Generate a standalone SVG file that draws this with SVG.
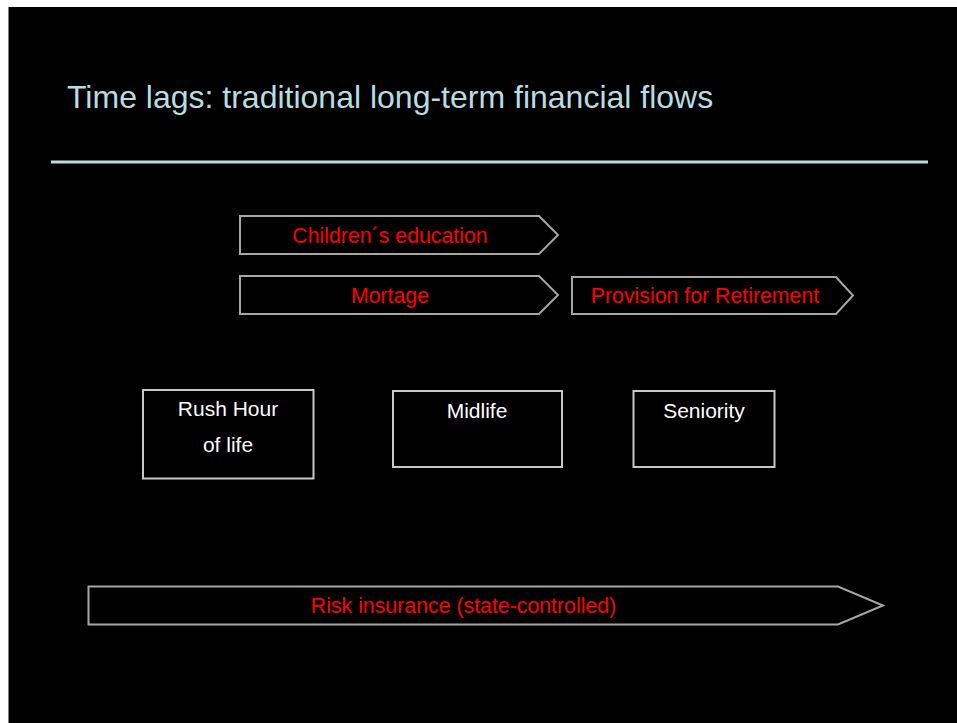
<svg xmlns="http://www.w3.org/2000/svg" width="957" height="723" viewBox="0 0 957 723">
<style>
.flow{fill:#000;stroke:#a6a6a6;stroke-width:2}
.box{fill:#000;stroke:#c8c8c8;stroke-width:2}
.rt{font-family:"Liberation Sans",Arial,sans-serif;font-size:21.3px;fill:#ff0000;text-anchor:middle}
.wt{font-family:"Liberation Sans",Arial,sans-serif;font-size:21px;fill:#ffffff;text-anchor:middle}
</style>
<rect x="0" y="0" width="957" height="723" fill="#ffffff"/>
<rect x="8.5" y="7" width="948.5" height="716" fill="#000000"/>
<text x="67" y="108" font-family="Liberation Sans, Arial, sans-serif" font-size="32" fill="#b8dde0">Time lags: traditional long-term financial flows</text>
<line x1="51" y1="162" x2="928" y2="162" stroke="#b8dde0" stroke-width="3"/>
<g id="connectors"></g>
<g id="children">
<polygon class="flow" points="240,216 539,216 558,235 539,254 240,254"/>
<text class="rt" x="390" y="243">Children´s education</text>
</g>
<g id="mortage">
<polygon class="flow" points="240,276 539,276 558,295 539,314 240,314"/>
<text class="rt" x="390" y="303">Mortage</text>
</g>
<g id="retirement">
<polygon class="flow" points="572,277 836,277 853,295.5 836,314 572,314"/>
<text class="rt" x="705" y="303">Provision for Retirement</text>
</g>
<g id="rushhour">
<rect class="box" x="143" y="390" width="170.5" height="88.5"/>
<text class="wt" x="228" y="416">Rush Hour</text>
<text class="wt" x="228" y="452">of life</text>
</g>
<g id="midlife">
<rect class="box" x="393" y="391" width="169" height="76"/>
<text class="wt" x="477" y="418">Midlife</text>
</g>
<g id="seniority">
<rect class="box" x="633.5" y="391" width="141" height="76"/>
<text class="wt" x="704" y="418">Seniority</text>
</g>
<g id="risk">
<polygon class="flow" points="88.5,586.5 838,586.5 883,605.5 838,624.5 88.5,624.5"/>
<text class="rt" x="463.5" y="613">Risk insurance (state-controlled)</text>
</g>
</svg>
